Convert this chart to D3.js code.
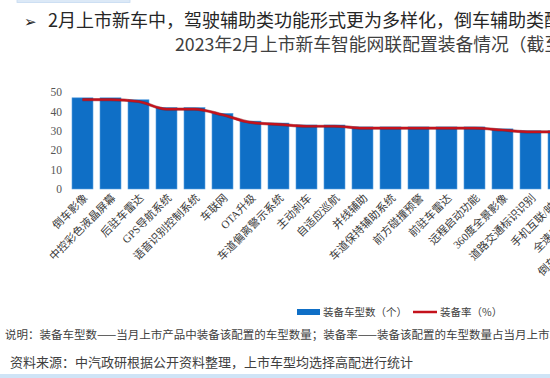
<!DOCTYPE html>
<html><head><meta charset="utf-8">
<script src="https://cdn.jsdelivr.net/npm/d3@7"></script>
<style>
html,body{margin:0;padding:0;background:#fff;overflow:hidden}
svg{display:block}
</style></head>
<body>
<svg id="c" width="550" height="378"></svg>
<script>
const categories = ["倒车影像","中控彩色液晶屏幕","后驻车雷达","GPS导航系统","语音识别控制系统","车联网","OTA升级","车道偏离警示系统","主动刹车","自适应巡航","并线辅助","车道保持辅助系统","前方碰撞预警","前驻车雷达","远程启动功能","360度全景影像","道路交通标识识别","手机互联/映射","全速自适应巡航","倒车车侧交通警示系统"];
const counts = [47,47,46,42,42,39,35,34,33,33,32,32,32,32,32,31,30,30,29,28];
const rates = [92.2,92.2,90.2,82.4,82.4,76.5,68.6,66.7,64.7,64.7,62.7,62.7,62.7,62.7,62.7,60.8,58.8,58.8,56.9,54.9];
const yTicks = [0,10,20,30,40,50];
const headline = "2月上市新车中，驾驶辅助类功能形式更为多样化，倒车辅助类配置装备率较高";
const title = "2023年2月上市新车智能网联配置装备情况（截至2月底）";
const legendLabels = ["装备车型数（个）","装备率（%）"];
const note1 = "说明：装备车型数——当月上市产品中装备该配置的车型数量；装备率——装备该配置的车型数量占当月上市车型总数的比例";
const note2 = "资料来源：中汽政研根据公开资料整理，上市车型均选择高配进行统计";

const svg = d3.select("#c");
const BLUE = "#0f6fc6", RED = "#c4121c";
const CJK = "'Noto Sans CJK SC','Noto Sans',sans-serif";

svg.append("rect").attr("width",550).attr("height",378).attr("fill","#fff");
// decorative top bar and bottom band
svg.append("rect").attr("x",17).attr("y",-2).attr("width",113).attr("height",4.5)
  .attr("fill","#dce9f7").attr("stroke","#c5daf0").attr("stroke-width",0.8);
svg.append("rect").attr("x",0).attr("y",374).attr("width",550).attr("height",4).attr("fill","#cfe4f6");

// headline
svg.append("text").attr("x",24).attr("y",27).attr("font-size",15).attr("fill","#222")
  .attr("font-family","'DejaVu Sans',sans-serif").text("➢");
svg.append("text").attr("x",48).attr("y",27).attr("font-size",18).attr("fill","#262626")
  .attr("font-family",CJK).text(headline);
svg.append("text").attr("x",175).attr("y",51).attr("font-size",17.8).attr("fill","#404040")
  .attr("font-family",CJK).text(title);

// scales
const x = d3.scaleBand().domain(categories).range([65, 65 + 28*(categories.length+0.25)]).paddingInner(0.25).paddingOuter(0.25);
const y = d3.scaleLinear().domain([0,50]).range([189, 92]);
const y2 = d3.scaleLinear().domain([0,100]).range([189, 92]);

// y axis
const yAxis = svg.append("g").attr("transform","translate(62,0)")
  .call(d3.axisLeft(y).tickValues(yTicks).tickSize(0).tickPadding(0));
yAxis.select(".domain").remove();
yAxis.selectAll("text").attr("font-family","'Liberation Serif',serif").attr("font-size",11.5).attr("fill","#555");

// bars
svg.append("g").selectAll("rect").data(categories).join("rect")
  .attr("x",d=>x(d)).attr("width",x.bandwidth())
  .attr("y",(d,i)=>y(counts[i])).attr("height",(d,i)=>y(0)-y(counts[i]))
  .attr("fill",BLUE).attr("stroke","#5aa0e0").attr("stroke-width",0.6);

// line
const line = d3.line().x((d,i)=>x(categories[i])+x.bandwidth()/2).y(d=>y2(d)).curve(d3.curveMonotoneX);
svg.append("path").datum(rates).attr("d",line).attr("fill","none")
  .attr("stroke","#7a0d12").attr("stroke-width",3.2).attr("opacity",0.5);
svg.append("path").datum(rates).attr("d",line).attr("fill","none")
  .attr("stroke",RED).attr("stroke-width",2.2);

// x labels
const xAxis = svg.append("g").attr("transform","translate(0,196)")
  .call(d3.axisBottom(x).tickSize(0).tickPadding(0));
xAxis.select(".domain").remove();
xAxis.selectAll("text")
  .attr("font-family","'Liberation Serif'," + CJK).attr("font-size",11).attr("fill","#3a3a3a")
  .attr("text-anchor","end").attr("dy","0.35em")
  .attr("transform","translate(3,0) rotate(-45)");

// legend
const lg = svg.append("g").attr("font-family",CJK).attr("font-size",10.5).attr("fill","#404040");
lg.append("rect").attr("x",297).attr("y",309).attr("width",23).attr("height",6).attr("fill",BLUE);
lg.append("text").attr("x",323).attr("y",316).text(legendLabels[0]);
lg.append("line").attr("x1",413).attr("x2",437).attr("y1",312).attr("y2",312).attr("stroke",RED).attr("stroke-width",2.5);
lg.append("text").attr("x",440).attr("y",316).text(legendLabels[1]);

// notes
svg.append("text").attr("x",5).attr("y",339).attr("font-size",11.5).attr("fill","#404040")
  .attr("font-family",CJK).text(note1);
svg.append("text").attr("x",10).attr("y",367).attr("font-size",13).attr("fill","#404040")
  .attr("font-family",CJK).text(note2);
</script>
</body></html>
